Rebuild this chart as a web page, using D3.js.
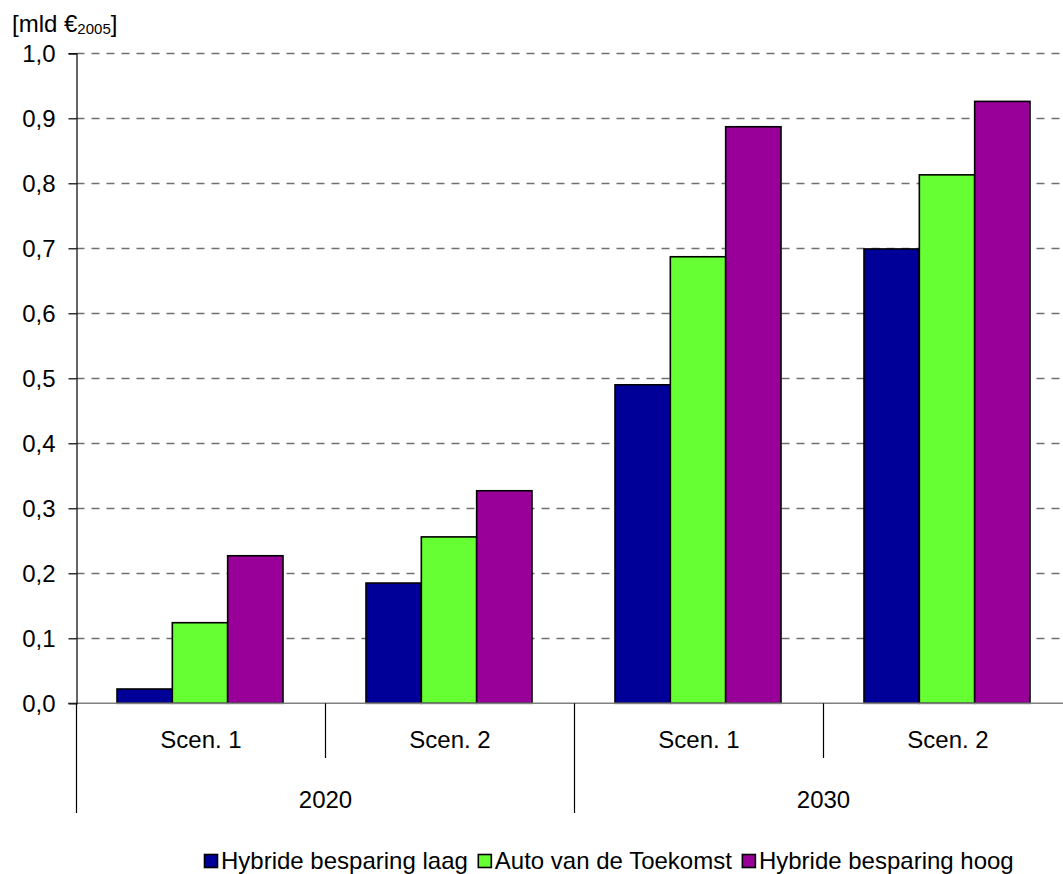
<!DOCTYPE html>
<html>
<head>
<meta charset="utf-8">
<script src="https://cdn.jsdelivr.net/npm/d3@7"></script>
<style>
  html, body { margin: 0; padding: 0; background: #fff; }
  svg { display: block; font-family: Arial, "Liberation Sans", sans-serif; }
</style>
</head>
<body>
<svg id="chart" width="1063" height="874"></svg>
<script>
// Category groups (scenario within year)
const scenarios = ["Scen. 1", "Scen. 2", "Scen. 1", "Scen. 2"];
const years = ["2020", "2030"];
const seriesNames = ["Hybride besparing laag", "Auto van de Toekomst", "Hybride besparing hoog"];
const seriesColors = ["#000099", "#66FF33", "#990099"];

// Values in billions of 2005 euro, one array per series
const hybrideLaag = [0.022, 0.185, 0.490, 0.699];
const autoToekomst = [0.124, 0.256, 0.687, 0.813];
const hybrideHoog = [0.227, 0.327, 0.887, 0.926];
const seriesValues = [hybrideLaag, autoToekomst, hybrideHoog];

const yTicks = [0, 0.1, 0.2, 0.3, 0.4, 0.5, 0.6, 0.7, 0.8, 0.9, 1.0];

const FONT = 24;
const svg = d3.select("#chart");
const plotLeft = 76.5, plotRight = 1072.5, plotTop = 53.3, plotBottom = 703.3;

const y = d3.scaleLinear().domain([0, 1]).range([plotBottom, plotTop]);
const x0 = d3.scaleBand().domain(d3.range(scenarios.length)).range([plotLeft, plotRight]).padding(0);
const bw = x0.bandwidth();
const x1 = d3.scaleBand().domain(d3.range(seriesNames.length)).range([bw / 6 - 1, bw * 5 / 6 - 1]).padding(0);

const fmt = v => d3.format(".1f")(v).replace(".", ",");

// Dashed gridlines
svg.append("g").selectAll("line").data(yTicks.filter(t => t > 0)).join("line")
  .attr("x1", plotLeft).attr("x2", 1063)
  .attr("y1", d => Math.round(y(d)) + 0.5).attr("y2", d => Math.round(y(d)) + 0.5)
  .attr("stroke", "#707070").attr("stroke-width", 1.3)
  .attr("stroke-dasharray", "8,7");

// Bars
const groups = svg.append("g").selectAll("g").data(d3.range(scenarios.length)).join("g")
  .attr("transform", i => `translate(${x0(i)},0)`);
groups.selectAll("rect").data(i => seriesValues.map((s, k) => ({k, v: s[i]}))).join("rect")
  .attr("x", d => x1(d.k))
  .attr("y", d => y(d.v))
  .attr("width", x1.bandwidth())
  .attr("height", d => y(0) - y(d.v))
  .attr("fill", d => seriesColors[d.k])
  .attr("stroke", "#000").attr("stroke-width", 1.6);

// Baseline
svg.append("line").attr("x1", 68).attr("x2", 1063)
  .attr("y1", plotBottom).attr("y2", plotBottom)
  .attr("stroke", "#808080").attr("stroke-width", 1.6);

// Y axis
const yAxis = d3.axisLeft(y).tickValues(yTicks).tickFormat(fmt).tickSize(8).tickPadding(13);
const ga = svg.append("g").attr("transform", `translate(${plotLeft},0)`).call(yAxis);
ga.attr("font-size", FONT).attr("font-family", "Arial, 'Liberation Sans', sans-serif");
ga.select(".domain").attr("stroke", "#000").attr("stroke-width", 1.2);
ga.selectAll(".tick line").attr("stroke", "#000").attr("stroke-width", 1.2);
ga.selectAll(".tick text").attr("fill", "#000").attr("dy", "0.35em");
ga.select(".tick:first-of-type line").remove();

// Category separators below baseline
svg.append("g").selectAll("line").data(d3.range(scenarios.length)).join("line")
  .attr("x1", i => x0(i)).attr("x2", i => x0(i))
  .attr("y1", plotBottom).attr("y2", i => i % 2 === 0 ? 813 : 758)
  .attr("stroke", "#000").attr("stroke-width", 1.2);

// Scenario labels
svg.append("g").selectAll("text").data(scenarios).join("text")
  .attr("x", (d, i) => x0(i) + bw / 2)
  .attr("y", 748)
  .attr("text-anchor", "middle").attr("font-size", FONT).attr("fill", "#000")
  .text(d => d);

// Year labels
svg.append("g").selectAll("text").data(years).join("text")
  .attr("x", (d, i) => x0(i * 2) + bw)
  .attr("y", 808)
  .attr("text-anchor", "middle").attr("font-size", FONT).attr("fill", "#000")
  .text(d => d);

// Unit label
const unit = svg.append("text").attr("x", 12).attr("y", 32).attr("font-size", FONT).attr("fill", "#000");
unit.append("tspan").text("[mld €");
unit.append("tspan").attr("font-size", 15).attr("dy", 2).attr("dx", 0).text("2005");
unit.append("tspan").attr("dy", -2).text("]");

// Legend, right-aligned under the plot
const legend = svg.append("g");
let lx = 0;
seriesNames.forEach((name, k) => {
  const g = legend.append("g").attr("transform", `translate(${lx},0)`);
  g.append("rect").attr("x", 0.5).attr("y", -14.5).attr("width", 13).attr("height", 13)
    .attr("fill", seriesColors[k]).attr("stroke", "#000").attr("stroke-width", 1.6);
  const t = g.append("text").attr("x", 17).attr("y", 0).attr("font-size", FONT)
    .attr("fill", "#000").text(name);
  lx += 17 + t.node().getComputedTextLength() + 10;
});
const legendWidth = lx - 10;
legend.attr("transform", `translate(${Math.round(1014 - legendWidth)},869)`);
</script>
</body>
</html>
